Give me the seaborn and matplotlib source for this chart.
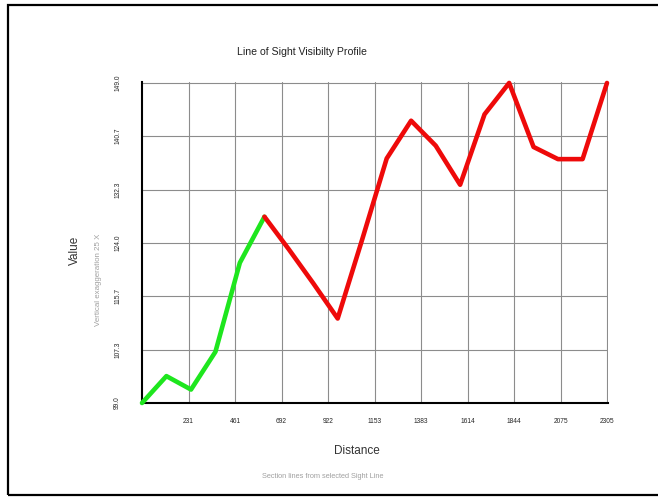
import matplotlib
matplotlib.use("Agg")
import matplotlib.pyplot as plt
import seaborn as sns
import pandas as pd
from matplotlib.patches import Rectangle

# profile samples
distance = [0, 121, 243, 364, 485, 607, 728, 849, 970, 1092,
            1213, 1334, 1456, 1577, 1698, 1820, 1941, 2062, 2184, 2305]
value = [99.0, 103.2, 101.1, 107.0, 120.9, 128.1, 123.0, 117.7, 112.2, 124.6,
         137.2, 143.1, 139.2, 133.1, 144.1, 149.0, 139.0, 137.1, 137.1, 149.0]
# last index still visible from the observer
last_visible = 5

x_ticks = [231, 461, 692, 922, 1153, 1383, 1614, 1844, 2075, 2305]
x_tick_labels = ["231", "461", "692", "922", "1153", "1383", "1614", "1844", "2075", "2305"]
y_ticks = [99.0, 107.3, 115.7, 124.0, 132.3, 140.7, 149.0]
y_tick_labels = ["99.0", "107.3", "115.7", "124.0", "132.3", "140.7", "149.0"]

sns.set_style("white")
plt.rcParams['font.family'] = ['Liberation Sans', 'DejaVu Sans']

df = pd.DataFrame({"distance": distance, "value": value})
visible = df.iloc[:last_visible + 1]
hidden = df.iloc[last_visible:]

fig = plt.figure(figsize=(6.58, 4.98), dpi=100)
ax = fig.add_axes([142 / 658, 1 - 403 / 498, 466 / 658, 321 / 498])

sns.lineplot(data=visible, x="distance", y="value", color="#1ee61e", lw=3.3,
             sort=False, ax=ax, clip_on=False, zorder=5)
sns.lineplot(data=hidden, x="distance", y="value", color="#ee0a0a", lw=3.3,
             sort=False, ax=ax, clip_on=False, zorder=5)

ax.set_xlim(0, 2310)
ax.set_ylim(99, 149.15)
ax.set_xticks(x_ticks)
ax.set_xticklabels(x_tick_labels, fontsize=4.8)
ax.set_yticks(y_ticks)
ax.set_yticklabels(y_tick_labels, fontsize=4.8, rotation=90, va="center")
ax.tick_params(axis="y", length=4, width=0.8, color="#808080", pad=11)
ax.tick_params(axis="x", length=3, width=0.8, color="#808080", pad=8)
ax.grid(True, color="#8c8c8c", lw=0.8)
ax.set_xlabel("")
ax.set_ylabel("")

for side in ["top", "right"]:
    ax.spines[side].set_visible(False)
for side in ["left", "bottom"]:
    ax.spines[side].set_color("black")
    ax.spines[side].set_linewidth(1.5)

fig.text(302 / 658, 1 - 52 / 498, "Line of Sight Visibilty Profile",
         ha="center", va="center", fontsize=7.6, color="#222222")
fig.text(75 / 658, 1 - 250 / 498, "Value", rotation=90,
         ha="center", va="center", fontsize=8.5, color="#333333")
fig.text(98 / 658, 1 - 280 / 498, "Vertical exaggeration 25 X", rotation=90,
         ha="center", va="center", fontsize=5.7, color="#a0a0a0")
fig.text(357 / 658, 1 - 451 / 498, "Distance",
         ha="center", va="center", fontsize=8.5, color="#333333")
fig.text(323 / 658, 1 - 476 / 498, "Section lines from selected Sight Line",
         ha="center", va="center", fontsize=5.3, color="#a0a0a0")

# outer frame of the export
fig.patches.append(Rectangle((8 / 658, 1 - 495 / 498), 1.0, 490 / 498,
                             transform=fig.transFigure, fill=False,
                             edgecolor="black", lw=1.6))

fig.savefig("out.png", dpi=100)
